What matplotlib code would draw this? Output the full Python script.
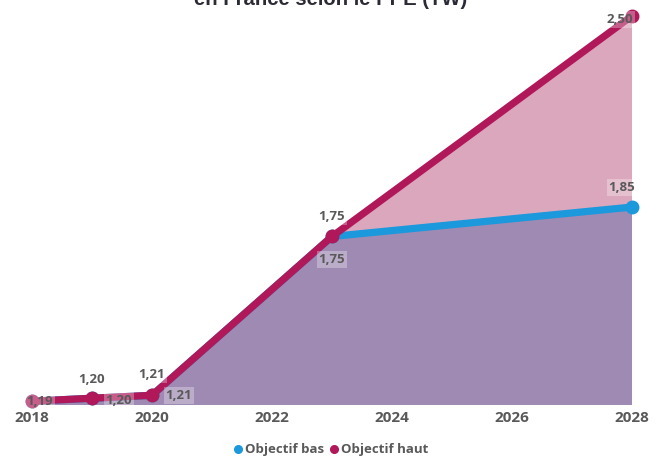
import matplotlib
matplotlib.use("Agg")
import matplotlib.pyplot as plt
from matplotlib.lines import Line2D

plt.rcParams.update({
    "font.family": "Open Sans",
    "font.size": 9.5,
})

years = [2018, 2019, 2020, 2023, 2028]
objectif_bas = [1.19, 1.20, 1.21, 1.75, 1.85]
objectif_haut = [1.19, 1.20, 1.21, 1.75, 2.50]
year_ticks = [2018, 2020, 2022, 2024, 2026, 2028]

C_BAS = "#1c98dc"
C_HAUT = "#b0185a"
C_FILL_BAS = "#9f8ab3"
C_FILL_HAUT = "#dba7bd"
C_TEXT = "#595959"


def fmt(v):
    return f"{v:.2f}".replace(".", ",")


fig = plt.figure(figsize=(6.64, 4.57), dpi=100)
ax = fig.add_axes([32 / 664, 1 - 405 / 457, 600 / 664, 405 / 457])

ax.fill_between(years, 0, objectif_haut, color=C_FILL_HAUT, lw=0)
ax.fill_between(years, 0, objectif_bas, color=C_FILL_BAS, lw=0)
ax.plot(years, objectif_bas, color=C_BAS, lw=5.2, marker="o", ms=9,
        solid_capstyle="round", clip_on=False, zorder=3)
ax.plot(years, objectif_haut, color=C_HAUT, lw=5.2, marker="o", ms=9,
        solid_capstyle="round", clip_on=False, zorder=4)

box = dict(boxstyle="square,pad=0.15", fc="white", ec="none", alpha=0.3)

# labels for the upper scenario
haut_offsets = [None, (0, 19), (0, 21), (0, 20), (-12, -4)]
for x, y, off in zip(years, objectif_haut, haut_offsets):
    if off is None:
        continue
    ax.annotate(fmt(y), (x, y), xytext=off, textcoords="offset pixels",
                ha="center", va="center", color=C_TEXT, fontsize=9.5,
                fontweight="bold", bbox=box, zorder=6, annotation_clip=False)

# labels for the lower scenario
bas_offsets = [(8, 0), (27, -2), (27, 0), (0, -23), (-10, 20)]
for x, y, off in zip(years, objectif_bas, bas_offsets):
    ax.annotate(fmt(y), (x, y), xytext=off, textcoords="offset pixels",
                ha="center", va="center", color=C_TEXT, fontsize=9.5,
                fontweight="bold", bbox=box, zorder=6, annotation_clip=False)

ax.set_xlim(2018, 2028)
ax.set_ylim(1.177, 2.554)
ax.set_xticks(year_ticks)
ax.set_xticklabels([str(y) for y in year_ticks], fontweight="bold", color=C_TEXT, fontsize=11)
ax.tick_params(axis="x", length=0, pad=4)
ax.set_yticks([])
for sp in ax.spines.values():
    sp.set_visible(False)

fig.text(331 / 664, 1 - 5 / 457, "en France selon le PPE (TW)", ha="center", va="baseline",
         fontsize=14.6, fontweight="bold", color="#2b2b36", family="Liberation Sans")

handles = [
    Line2D([], [], ls="none", marker="o", ms=5.5, color=C_BAS),
    Line2D([], [], ls="none", marker="o", ms=5.5, color=C_HAUT),
]
leg = fig.legend(handles, ["Objectif bas", "Objectif haut"], loc="center",
                 bbox_to_anchor=(331 / 664, 1 - 450 / 457), ncol=2, frameon=False,
                 handlelength=0.6, handletextpad=0.2, columnspacing=0.5,
                 prop={"weight": "bold", "size": 9.5})
for t in leg.get_texts():
    t.set_color(C_TEXT)

fig.savefig("out.png", dpi=100, facecolor="white")
